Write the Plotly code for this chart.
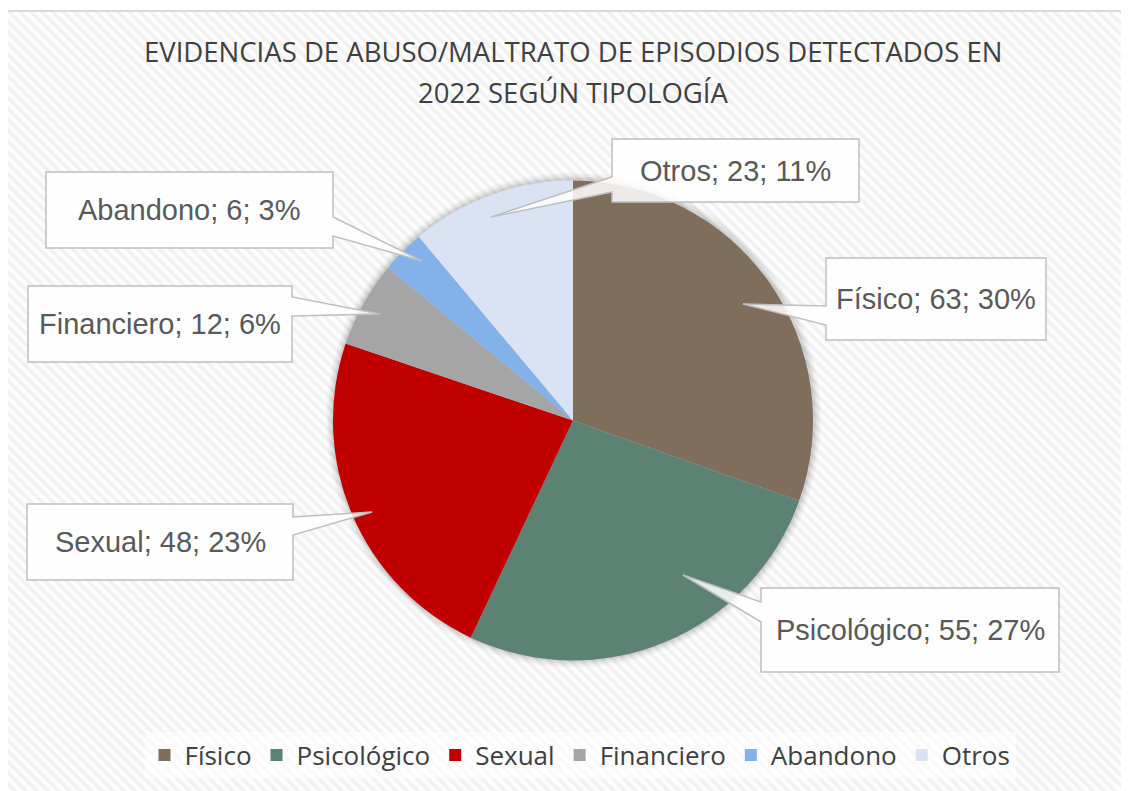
import plotly.graph_objects as go
import base64

# ---- data ----
categories = ["Físico", "Psicológico", "Sexual", "Financiero", "Abandono", "Otros"]
values = [63, 55, 48, 12, 6, 23]
title_lines = ["EVIDENCIAS DE ABUSO/MALTRATO DE EPISODIOS DETECTADOS EN", "2022 SEGÚN TIPOLOGÍA"]

# ---- style ----
colors = ["#7F6E5C", "#5B8273", "#C00000", "#A5A5A5", "#83B2EA", "#DAE3F3"]
OFF = 8                      # page body margin
W, H = 1129 - OFF, 791 - OFF
CX, CY, R = 573, 420.5, 240

def px(x):
    return (x - OFF) / W

def py(y):
    return 1 - (y - OFF) / H

# callout layout (pixel positions of label boxes and pointer, in window coords)
callouts = {
    "Físico":      dict(box=(826, 258, 1046, 340), side="left",  base=(306, 325), tip=(743, 304)),
    "Psicológico": dict(box=(761, 588, 1059, 672), side="left",  base=(602, 622), tip=(683, 575)),
    "Sexual":      dict(box=(27, 504, 293, 580),   side="right", base=(517, 535), tip=(372, 512)),
    "Financiero":  dict(box=(28, 286, 292, 362),   side="right", base=(297, 316), tip=(380, 314)),
    "Abandono":    dict(box=(46, 172, 333, 248),   side="right", base=(217, 236), tip=(422, 261)),
    "Otros":       dict(box=(612, 139, 859, 202),  side="left",  base=(177, 192), tip=(491, 217)),
}

total = sum(values)

fig = go.Figure()
fig.add_trace(go.Pie(
    labels=categories,
    values=values,
    sort=False,
    direction="clockwise",
    rotation=0,
    textinfo="none",
    marker=dict(colors=colors, line=dict(width=0)),
    domain=dict(x=[px(CX - R), px(CX + R)], y=[py(CY + R), py(CY - R)]),
    hoverinfo="label+value+percent",
))

# background hatch
svg = (
    f'<svg xmlns="http://www.w3.org/2000/svg" width="{W}" height="{H}">'
    '<defs><pattern id="p" width="7" height="7" patternUnits="userSpaceOnUse" patternTransform="rotate(-45)">'
    '<rect width="7" height="7" fill="#fdfdfd"/><rect width="3" height="7" fill="#f1f1f1"/>'
    '</pattern></defs><rect width="100%" height="100%" fill="url(#p)"/></svg>'
)
src = "data:image/svg+xml;base64," + base64.b64encode(svg.encode()).decode()

shapes = []
# soft glow around pie
for dr, a in [(7, 0.03), (5, 0.04), (3, 0.05), (1.5, 0.06)]:
    shapes.append(dict(type="circle", xref="paper", yref="paper", layer="below",
                       x0=px(CX - R - dr), x1=px(CX + R + dr + 1),
                       y0=py(CY + R + dr), y1=py(CY - R - dr - 1),
                       fillcolor=f"rgba(0,0,0,{a})", line=dict(width=0)))
# outer border
shapes.append(dict(type="rect", xref="paper", yref="paper", layer="above",
                   x0=px(6), x1=px(1129 + 10), y0=py(791 + 10), y1=py(11),
                   line=dict(color="#D9D9D9", width=2), fillcolor="rgba(0,0,0,0)"))

annotations = []
for cat, val in zip(categories, values):
    c = callouts[cat]
    x0, y0, x1, y1 = c["box"]
    b0, b1 = c["base"]
    tx, ty = c["tip"]
    if c["side"] == "left":
        pts = [(x0, y0), (x1, y0), (x1, y1), (x0, y1), (x0, b1), (tx, ty), (x0, b0)]
    else:
        pts = [(x0, y0), (x1, y0), (x1, b0), (tx, ty), (x1, b1), (x1, y1), (x0, y1)]
    path = "M " + " L ".join(f"{px(x):.5f},{py(y):.5f}" for x, y in pts) + " Z"
    shapes.append(dict(type="path", path=path, xref="paper", yref="paper", layer="above",
                       fillcolor="rgba(255,255,255,0.86)",
                       line=dict(color="#BFBFBF", width=1.5)))
    pct = round(val / total * 100)
    annotations.append(dict(
        x=px((x0 + x1) / 2), y=py((y0 + y1) / 2), xref="paper", yref="paper",
        text=f"{cat}; {val}; {pct}%", showarrow=False,
        font=dict(family="Liberation Sans, Arial, sans-serif", size=29, color="#595959"),
        xanchor="center", yanchor="middle",
    ))

# title lines
for i, line in enumerate(title_lines):
    annotations.append(dict(
        x=px(573), y=py(52 + 40 * i), xref="paper", yref="paper",
        text=line, showarrow=False, xanchor="center", yanchor="middle",
        font=dict(family="Open Sans, sans-serif", size=27.5, color="#404040"),
    ))

fig.update_layout(
    width=W, height=H,
    margin=dict(l=0, r=0, t=0, b=0),
    paper_bgcolor="white",
    plot_bgcolor="white",
    images=[dict(source=src, xref="paper", yref="paper", x=px(6), y=py(11),
                 sizex=1.1, sizey=1.1, sizing="stretch", xanchor="left", yanchor="top",
                 layer="below")],
    shapes=shapes,
    annotations=annotations,
    showlegend=True,
    legend=dict(orientation="h", x=px(580), xanchor="center", y=py(755), yanchor="middle",
                font=dict(family="Open Sans, sans-serif", size=26, color="#404040"),
                bgcolor="rgba(255,255,255,0.6)", itemclick=False),
)

fig.write_html("out.html")
